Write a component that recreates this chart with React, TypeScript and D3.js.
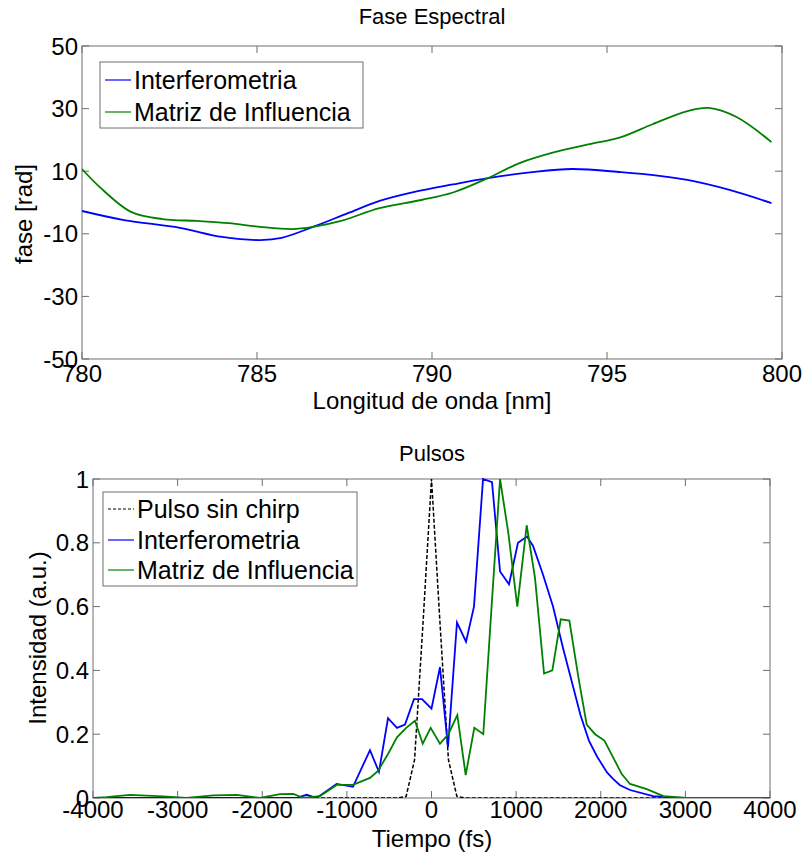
import React from 'react';
import * as d3 from 'd3';

// ---------- Top panel: Fase Espectral ----------
const phaseXTicks = [780, 785, 790, 795, 800];
const phaseYTicks = [-50, -30, -10, 10, 30, 50];
const interfWavelength = [780, 781.2, 782.8, 784.0, 785.1, 785.7, 786.6, 787.6, 788.5, 789.5, 790.6, 791.6, 792.8, 794.0, 795.4, 796.5, 797.3, 798.5, 799.7];
const interfPhase = [-2.7, -5.6, -8.1, -11, -12, -11.3, -7.8, -3.4, 0.5, 3.4, 5.8, 7.8, 9.6, 10.7, 9.7, 8.5, 7.2, 4.0, -0.2];
const matrizWavelength = [780, 780.5, 781.4, 782.3, 783.3, 784.2, 785.1, 786.0, 786.6, 787.4, 788.5, 789.7, 790.6, 791.6, 792.5, 793.5, 794.4, 795.4, 796.3, 797.3, 797.9, 798.7, 799.7];
const matrizPhase = [10.7, 5, -3, -5.3, -5.9, -6.6, -7.8, -8.5, -7.8, -5.9, -1.8, 0.8, 3.2, 7.8, 12.6, 16.1, 18.4, 20.9, 25, 29.2, 30.2, 27.3, 19.3];

// ---------- Bottom panel: Pulsos ----------
const pulseXTicks = [-4000, -3000, -2000, -1000, 0, 1000, 2000, 3000, 4000];
const pulseYTicks = [0, 0.2, 0.4, 0.6, 0.8, 1];
const pulseYTickLabels = ['0', '0.2', '0.4', '0.6', '0.8', '1'];
const sinChirpTime = [-4000, -400, -300, -200, -100, 0, 100, 200, 300, 400, 4000];
const sinChirpInt = [0, 0, 0.005, 0.12, 0.55, 1, 0.55, 0.12, 0.005, 0, 0];
const interfTime = [-4000, -1600, -1475, -1357, -1121, -928, -727, -621, -514, -408, -313, -207, -112, 0, 100, 195, 301, 408, 502, 609, 715, 810, 916, 1022, 1129, 1200, 1318, 1436, 1554, 1672, 1760, 1860, 1956, 2074, 2145, 2228, 2346, 2618, 2937, 4000];
const interfInt = [0, 0, 0.01, 0, 0.044, 0.035, 0.15, 0.082, 0.25, 0.22, 0.23, 0.31, 0.31, 0.28, 0.41, 0.16, 0.55, 0.49, 0.60, 1.0, 0.99, 0.71, 0.67, 0.80, 0.82, 0.79, 0.70, 0.60, 0.47, 0.35, 0.26, 0.18, 0.13, 0.08, 0.06, 0.04, 0.025, 0.006, 0, 0];
const matrizTime = [-4000, -3840, -3564, -3170, -2894, -2579, -2303, -2027, -1791, -1633, -1515, -1318, -1121, -928, -727, -632, -514, -408, -300, -195, -104, -10, 100, 199, 305, 404, 506, 612, 710, 810, 908, 1014, 1125, 1223, 1330, 1428, 1527, 1629, 1735, 1834, 1933, 2043, 2149, 2248, 2346, 2544, 2740, 3016, 4000];
const matrizInt = [0, 0.003, 0.01, 0.005, 0, 0.008, 0.01, 0, 0.012, 0.013, 0, 0.006, 0.041, 0.041, 0.063, 0.085, 0.138, 0.19, 0.22, 0.242, 0.17, 0.22, 0.17, 0.20, 0.26, 0.072, 0.22, 0.20, 0.60, 1.0, 0.83, 0.60, 0.855, 0.69, 0.39, 0.40, 0.56, 0.556, 0.38, 0.23, 0.20, 0.18, 0.126, 0.075, 0.044, 0.028, 0.006, 0, 0];

const BLUE = '#0000ff';
const GREEN = '#008000';
const AXIS = '#6e6e6e';
const FONT = '"Liberation Sans", Arial, sans-serif';

type Box = { x0: number; x1: number; y0: number; y1: number };

function AxesFrame({ box, xs, ys, xTicks, yTicks, yLabels, xLabelY }: any) {
  const tl = 7;
  return (
    <g>
      <rect x={box.x0} y={box.y0} width={box.x1 - box.x0} height={box.y1 - box.y0} fill="none" stroke={AXIS} strokeWidth={1} />
      {xTicks.map((t: number) => (
        <g key={'x' + t}>
          <line x1={xs(t)} x2={xs(t)} y1={box.y1} y2={box.y1 - tl} stroke={AXIS} />
          <line x1={xs(t)} x2={xs(t)} y1={box.y0} y2={box.y0 + tl} stroke={AXIS} />
          <text x={xs(t)} y={xLabelY} textAnchor="middle" fontSize={24} fontFamily={FONT} fill="#000">{t}</text>
        </g>
      ))}
      {yTicks.map((t: number, i: number) => (
        <g key={'y' + t}>
          <line x1={box.x0} x2={box.x0 + tl} y1={ys(t)} y2={ys(t)} stroke={AXIS} />
          <line x1={box.x1} x2={box.x1 - tl} y1={ys(t)} y2={ys(t)} stroke={AXIS} />
          <text x={box.x0 - 4} y={ys(t) + 8.5} textAnchor="end" fontSize={24} fontFamily={FONT} fill="#000">{yLabels ? yLabels[i] : t}</text>
        </g>
      ))}
    </g>
  );
}

function Legend({ x, y, w, h, rows }: any) {
  return (
    <g>
      <rect x={x} y={y} width={w} height={h} fill="#fff" stroke={AXIS} strokeWidth={1} />
      {rows.map((r: any, i: number) => (
        <g key={i}>
          <line x1={x + 5} x2={x + 31} y1={r.cy} y2={r.cy} stroke={r.color} strokeWidth={1.2} strokeDasharray={r.dash || null} />
          <text x={x + 34} y={r.cy + 9} fontSize={25} fontFamily={FONT} fill="#000">{r.label}</text>
        </g>
      ))}
    </g>
  );
}

export default function App() {
  const top: Box = { x0: 82, x1: 782, y0: 46, y1: 359 };
  const bot: Box = { x0: 93, x1: 770, y0: 479, y1: 798 };

  const xT = d3.scaleLinear().domain([780, 800]).range([top.x0, top.x1]);
  const yT = d3.scaleLinear().domain([-50, 50]).range([top.y1, top.y0]);
  const xB = d3.scaleLinear().domain([-4000, 4000]).range([bot.x0, bot.x1]);
  const yB = d3.scaleLinear().domain([0, 1]).range([bot.y1, bot.y0]);

  const smooth = d3.line<[number, number]>().x(d => xT(d[0])).y(d => yT(d[1])).curve(d3.curveCatmullRom.alpha(0.5));
  const lin = d3.line<[number, number]>().x(d => xB(d[0])).y(d => yB(d[1]));

  const zip = (a: number[], b: number[]) => a.map((v, i) => [v, b[i]] as [number, number]);

  return (
    <svg width={805} height={856} style={{ position: 'absolute', left: 0, top: 0, background: '#fff' }}>
      <rect width={805} height={856} fill="#fff" />
      <defs>
        <clipPath id="clipTop"><rect x={top.x0} y={top.y0} width={top.x1 - top.x0} height={top.y1 - top.y0} /></clipPath>
        <clipPath id="clipBot"><rect x={bot.x0} y={bot.y0 - 1} width={bot.x1 - bot.x0} height={bot.y1 - bot.y0 + 1} /></clipPath>
      </defs>

      {/* Top panel */}
      <text x={432} y={24} textAnchor="middle" fontSize={22} fontFamily={FONT}>Fase Espectral</text>
      <AxesFrame box={top} xs={xT} ys={yT} xTicks={phaseXTicks} yTicks={phaseYTicks} xLabelY={382} />
      <g clipPath="url(#clipTop)">
        <path d={smooth(zip(interfWavelength, interfPhase)) || ''} fill="none" stroke={BLUE} strokeWidth={1.8} />
        <path d={smooth(zip(matrizWavelength, matrizPhase)) || ''} fill="none" stroke={GREEN} strokeWidth={1.8} />
      </g>
      <text x={432} y={409} textAnchor="middle" fontSize={24} fontFamily={FONT}>Longitud de onda [nm]</text>
      <text transform="translate(32,214) rotate(-90)" textAnchor="middle" fontSize={24} fontFamily={FONT}>fase [rad]</text>
      <Legend x={100} y={62} w={263} h={66} rows={[
        { label: 'Interferometria', color: BLUE, cy: 80 },
        { label: 'Matriz de Influencia', color: GREEN, cy: 112 },
      ]} />

      {/* Bottom panel */}
      <text x={432} y={461} textAnchor="middle" fontSize={22} fontFamily={FONT}>Pulsos</text>
      <AxesFrame box={bot} xs={xB} ys={yB} xTicks={pulseXTicks} yTicks={pulseYTicks} yLabels={pulseYTickLabels} xLabelY={818} />
      <g clipPath="url(#clipBot)">
        <path d={lin(zip(sinChirpTime, sinChirpInt)) || ''} fill="none" stroke="#000" strokeWidth={1.5} strokeDasharray="4,2" />
        <path d={lin(zip(interfTime, interfInt)) || ''} fill="none" stroke={BLUE} strokeWidth={1.8} />
        <path d={lin(zip(matrizTime, matrizInt)) || ''} fill="none" stroke={GREEN} strokeWidth={1.8} />
      </g>
      <text x={432} y={847} textAnchor="middle" fontSize={24} fontFamily={FONT}>Tiempo (fs)</text>
      <text transform="translate(46,638) rotate(-90)" textAnchor="middle" fontSize={24} fontFamily={FONT}>Intensidad (a.u.)</text>
      <Legend x={103} y={492} w={254} h={94} rows={[
        { label: 'Pulso sin chirp', color: '#000', cy: 509, dash: '3,2' },
        { label: 'Interferometria', color: BLUE, cy: 540 },
        { label: 'Matriz de Influencia', color: GREEN, cy: 570 },
      ]} />
    </svg>
  );
}
